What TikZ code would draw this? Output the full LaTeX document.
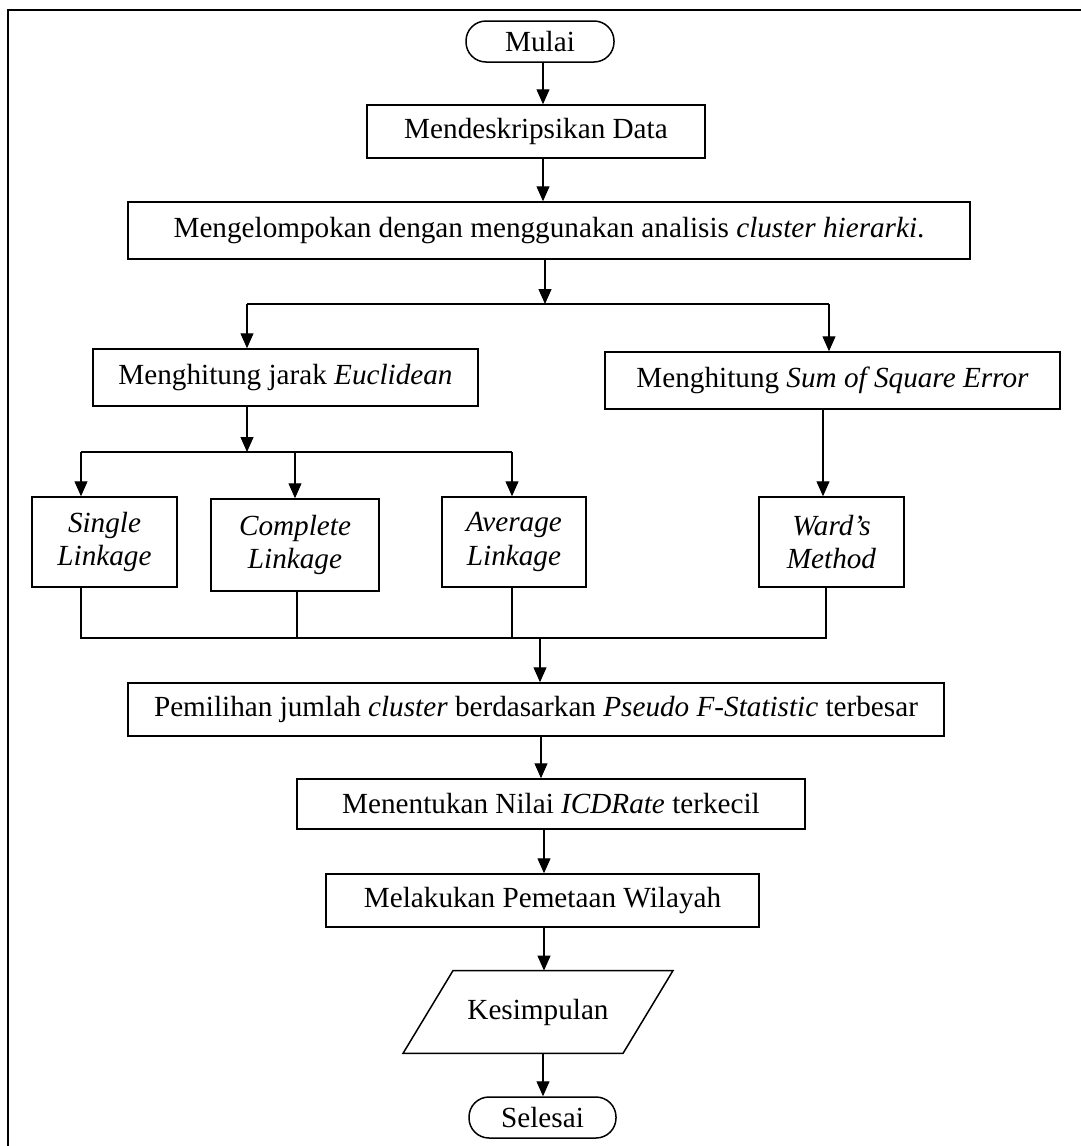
\documentclass[tikz,border=0pt]{standalone}
\usepackage{fontspec}
\setmainfont{Liberation Serif}
\usetikzlibrary{arrows.meta,calc}
\begin{document}
\begin{tikzpicture}[x=0.5pt,y=-0.5pt,
  box/.style={draw,line width=0.75pt,inner sep=0pt,align=center,
    font=\fontsize{14.6}{16.8}\selectfont},
  term/.style={box,rounded corners=10pt},
  ghost/.style={inner sep=0pt,align=center,font=\fontsize{14.6}{16.8}\selectfont},
  arr/.style={-{Triangle[length=7.5pt,width=6.5pt]},line width=0.6pt},
  ln/.style={line width=0.6pt}]
\useasboundingbox (0,0) rectangle (1081,1146);
\draw[line width=0.75pt] (8,1150) -- (8,10) -- (1085,10);

\node[term,minimum width=74pt,minimum height=20.5pt] (mulai) at (540,41.5) {Mulai};
\node[box,minimum width=169pt,minimum height=26.5pt] (desk) at (536,131.5) {Mendeskripsikan Data};
\node[box,minimum width=421pt,minimum height=28.5pt] (kel) at (549,230.5) {Mengelompokan dengan menggunakan analisis \textit{cluster hierarki}.};
\node[box,minimum width=192.5pt,minimum height=28.5pt] (eucl) at (285.5,377.5) {Menghitung jarak \textit{Euclidean}};
\node[box,minimum width=227.5pt,minimum height=28.5pt] (sse) at (832.5,380.5) {Menghitung \textit{Sum of Square Error}};
\node[box,minimum width=72.5pt,minimum height=45pt] (single) at (104.5,542) {\textit{Single}\\\textit{Linkage}};
\node[box,minimum width=84pt,minimum height=46pt] (complete) at (295,545) {\textit{Complete}\\\textit{Linkage}};
\node[box,minimum width=72pt,minimum height=45pt] (average) at (514,542) {\textit{Average}\\\textit{Linkage}};
\node[box,minimum width=72.5pt,minimum height=45pt] (ward) at (831.5,542) {\textit{Ward’s}\\\textit{Method}};
\node[box,minimum width=408pt,minimum height=26.5pt] (pemilihan) at (536,709.5) {Pemilihan jumlah \textit{cluster} berdasarkan \textit{Pseudo F-Statistic} terbesar};
\node[box,minimum width=254pt,minimum height=25pt] (menentukan) at (551,804) {Menentukan Nilai \textit{ICDRate} terkecil};
\node[box,minimum width=216.5pt,minimum height=26.5pt] (melakukan) at (542.5,900.5) {Melakukan Pemetaan Wilayah};
\node[ghost,minimum width=110pt,minimum height=41pt] (kes) at (538,1012) {Kesimpulan};
\draw[line width=0.75pt] ([xshift=-42.5pt]kes.north) -- ([xshift=67.5pt]kes.north)
  -- ([xshift=42.5pt]kes.south) -- ([xshift=-67.5pt]kes.south) -- cycle;
\node[term,minimum width=73.5pt,minimum height=20.5pt] (selesai) at (542.5,1117.5) {Selesai};

\coordinate (j1) at (545,304);
\coordinate (j1l) at (247,304);
\coordinate (j1r) at (829,304);
\coordinate (j2) at (247,452);
\coordinate (j2l) at (81,452);
\coordinate (j2m) at (295,452);
\coordinate (j2r) at (512,452);
\coordinate (j3) at (540,638);
\coordinate (j3a) at (81,638);
\coordinate (j3b) at (297,638);
\coordinate (j3c) at (512,638);
\coordinate (j3d) at (826,638);

\draw[arr] ([xshift=1.5pt]mulai.south) -- ([xshift=1.5pt]mulai.south |- desk.north);
\draw[arr] ([xshift=3.5pt]desk.south) -- ([xshift=3.5pt]desk.south |- kel.north);
\draw[arr] (j1 |- kel.south) -- (j1);
\draw[ln] (j1l) -- (j1r);
\draw[arr] (j1l) -- (j1l |- eucl.north);
\draw[arr] (j1r) -- (j1r |- sse.north);
\draw[arr] (j2 |- eucl.south) -- (j2);
\draw[ln] (j2l) -- (j2r);
\draw[arr] (j2l) -- (j2l |- single.north);
\draw[arr] (j2m) -- (j2m |- complete.north);
\draw[arr] (j2r) -- (j2r |- average.north);
\draw[arr] (sse.south -| 823,0) -- (ward.north -| 823,0);
\draw[ln] (j3a |- single.south) -- (j3a) -- (j3d) -- (j3d |- ward.south);
\draw[ln] (j3b |- complete.south) -- (j3b);
\draw[ln] (j3c |- average.south) -- (j3c);
\draw[arr] (j3) -- (j3 |- pemilihan.north);
\draw[arr] ([xshift=2.5pt]pemilihan.south) -- ([xshift=2.5pt]pemilihan.south |- menentukan.north);
\draw[arr] ([xshift=-3.5pt]menentukan.south) -- ([xshift=-3.5pt]menentukan.south |- melakukan.north);
\draw[arr] ([xshift=0.75pt]melakukan.south) -- ([xshift=0.75pt]melakukan.south |- kes.north);
\draw[arr] ([xshift=2.5pt]kes.south) -- ([xshift=2.5pt]kes.south |- selesai.north);
\end{tikzpicture}
\end{document}
